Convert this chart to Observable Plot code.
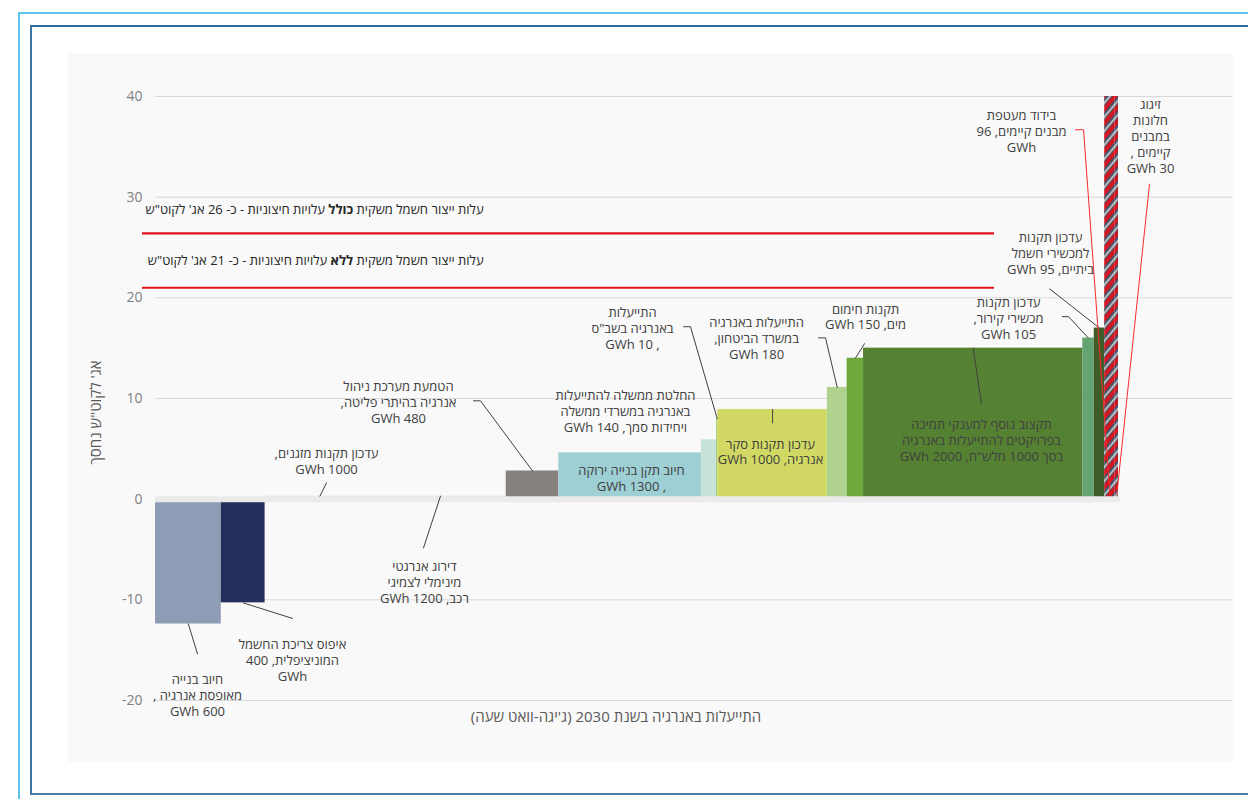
<!DOCTYPE html>
<html lang="he">
<head>
<meta charset="utf-8">
<script src="https://cdn.jsdelivr.net/npm/d3@7"></script>
<script src="https://cdn.jsdelivr.net/npm/@observablehq/plot@0.6"></script>
<style>
  html, body { margin: 0; padding: 0; background: #ffffff; }
  body { width: 1248px; height: 799px; overflow: hidden; position: relative; font-family: "Open Sans", "DejaVu Sans", sans-serif; }
  #outer { position: absolute; left: 18px; top: 12px; width: 1240px; height: 800px; border-left: 2px solid #5cc2ef; border-top: 2px solid #5cc2ef; }
  #inner { position: absolute; left: 30px; top: 25px; width: 1230px; height: 766px; border-left: 2px solid #3d77a5; border-top: 2px solid #2c6da0; border-bottom: 2px solid #4a7fa8; }
  #chart { position: absolute; left: 68px; top: 53px; }
</style>
</head>
<body>
<div id="outer"></div>
<div id="inner"></div>
<div id="chart"></div>
<script>
// ---------- data ----------
const measures = [
  "חיוב בנייה מאופסת אנרגיה",
  "איפוס צריכת החשמל המוניציפלית",
  "עדכון תקנות מזגנים",
  "דירוג אנרגטי מינימלי לצמיגי רכב",
  "הטמעת מערכת ניהול אנרגיה בהיתרי פליטה",
  "חיוב תקן בנייה ירוקה",
  "החלטת ממשלה להתייעלות באנרגיה במשרדי ממשלה ויחידות סמך",
  "התייעלות באנרגיה בשב\"ס",
  "עדכון תקנות סקר אנרגיה",
  "התייעלות באנרגיה במשרד הביטחון",
  "תקנות חימום מים",
  "תקצוב נוסף למענקי תמיכה בפרויקטים להתייעלות באנרגיה",
  "עדכון תקנות מכשירי קירור",
  "עדכון תקנות למכשירי חשמל ביתיים",
  "בידוד מעטפת מבנים קיימים",
  "זיגוג חלונות במבנים קיימים"
];
const savingsGWh = [600, 400, 1000, 1200, 480, 1300, 140, 10, 1000, 180, 150, 2000, 105, 95, 96, 30];
const costAgPerKWh = [-12.4, -10.3, 0.3, 0.3, 2.8, 4.6, 5.9, 8.0, 8.9, 11.1, 14.0, 15.0, 16.0, 17.0, 45, 45];
const labelLines = [
  ["חיוב בנייה", "מאופסת אנרגיה ,", "600 GWh"],
  ["איפוס צריכת החשמל", "המוניציפלית, 400", "GWh"],
  ["עדכון תקנות מזגנים,", "1000 GWh"],
  ["דירוג אנרגטי", "מינימלי לצמיגי", "רכב, 1200 GWh"],
  ["הטמעת מערכת ניהול", "אנרגיה בהיתרי פליטה,", "480 GWh"],
  ["חיוב תקן בנייה ירוקה", ", 1300 GWh"],
  ["החלטת ממשלה להתייעלות", "באנרגיה במשרדי ממשלה", "ויחידות סמך, 140 GWh"],
  ["התייעלות", "באנרגיה בשב\"ס", ", 10 GWh"],
  ["עדכון תקנות סקר", "אנרגיה, 1000 GWh"],
  ["התייעלות באנרגיה", "במשרד הביטחון,", "180 GWh"],
  ["תקנות חימום", "מים, 150 GWh"],
  ["תקצוב נוסף למענקי תמיכה", "בפרויקטים להתייעלות באנרגיה", "בסך 1000 מלש\"ח, 2000 GWh"],
  ["עדכון תקנות", "מכשירי קירור,", "105 GWh"],
  ["עדכון תקנות", "למכשירי חשמל", "ביתיים, 95 GWh"],
  ["בידוד מעטפת", "מבנים קיימים, 96", "GWh"],
  ["זיגוג", "חלונות", "במבנים", "קיימים ,", "30 GWh"]
];
const refCosts = [26.4, 21.0];
const refLabels = [
  "עלות ייצור חשמל משקית *כולל* עלויות חיצוניות - כ- 26 אג' לקוט\"ש",
  "עלות ייצור חשמל משקית *ללא* עלויות חיצוניות - כ- 21 אג' לקוט\"ש"
];
const yTicks = [-20, -10, 0, 10, 20, 30, 40];
const yLabel = "אג' לקוט\"ש נחסך";
const xLabel = "התייעלות באנרגיה בשנת 2030 (ג'יגה-וואט שעה)";

// ---------- styles / layout (not data) ----------
const palette = ["#8e9cb6", "#242f5e", "#e4e4e4", "#e4e4e4", "#878280", "#9dcfd4", "#c6e3d9", "#9cc36b",
                 "#d1d964", "#afd38f", "#70a93b", "#558232", "#66a372", "#3e5c27", "url(#hatch)", "url(#hatch)"];
// label anchor [GWh, cost] and leader elbow points (data units)
const labelLayout = [
  {at: [383, -19.44],  path: [[383, -15.37]]},
  {at: [1250, -15.96], path: [[1250, -11.85]]},
  {at: [1560, 3.80],   path: [[1560, 1.62]]},
  {at: [2454, -8.22],  path: [[2445, -4.84]]},
  {at: [2217, 9.67],   path: [[2901, 9.77], [2965, 9.77]]},
  {at: [4343, 2.12],   path: null},
  {at: [4288, 8.77],   path: null},
  {at: [4352, 17.04],  path: [[4818, 17.13], [4881, 17.13]]},
  {at: [5611, 4.75],   path: [[5630, 7.58]]},
  {at: [5484, 16.02],  path: [[6049, 16.02], [6113, 16.02]]},
  {at: [6478, 18.16],  path: [[6469, 15.45]]},
  {at: [7536, 5.89],   path: [[7536, 9.47]]},
  {at: [7783, 18.0],   path: [[8275, 18.13], [8330, 18.13]]},
  {at: [8166, 24.47],  path: [[8157, 20.89]]},
  {at: [7901, 36.58],  path: [[8394, 36.7], [8467, 36.7]], red: true},
  {at: [9078, 36.1],   path: [[9069, 31.3]], red: true}
];
const refLabelAt = [[2993, 28.74], [2993, 23.72]];

// ---------- build tables ----------
let cum = 0;
const bars = measures.map((m, i) => {
  const x1 = cum; cum += savingsGWh[i];
  return {i, measure: m, x1, x2: cum, mid: (x1 + cum) / 2, cost: costAgPerKWh[i], fill: palette[i], hatched: palette[i].startsWith("url")};
});
const total = cum;
const labels = bars.map((b, i) => ({text: labelLines[i].join("\n"), x: labelLayout[i].at[0], y: labelLayout[i].at[1]}));
const leaders = [];
bars.forEach((b, i) => {
  const L = labelLayout[i];
  if (!L.path) return;
  L.path.forEach(p => leaders.push({id: i, x: p[0], y: p[1], red: !!L.red}));
  leaders.push({id: i, x: b.mid, y: b.hatched ? 0.5 : b.cost, red: !!L.red});
});
const refs = refCosts.map((c, i) => ({cost: c, label: refLabels[i], x: refLabelAt[i][0], y: refLabelAt[i][1]}));

const font = "'Open Sans', 'DejaVu Sans', sans-serif";
const chart = Plot.plot({
  width: 1165,
  height: 709,
  marginLeft: 87,
  marginRight: 115,
  marginTop: 43,
  marginBottom: 62,
  style: {background: "#f9f9f9", fontFamily: font, fontSize: "14px", color: "#808080", overflow: "visible"},
  x: {domain: [0, total], axis: null},
  y: {domain: [-20, 40], ticks: yTicks, tickSize: 0, tickPadding: 13, tickFormat: d => String(d), label: null},
  marks: [
    Plot.ruleY(yTicks.filter(t => t !== 0), {stroke: "#d9d9d9", strokeWidth: 1, insetRight: -114}),
    Plot.rect(bars.filter(b => !b.hatched), {x1: "x1", x2: "x2", y1: 0, y2: "cost", fill: "fill"}),
    Plot.rect(bars.filter(b => b.hatched), {x1: "x1", x2: "x2", y1: 0, y2: "cost", fill: "url(#hatch)", clip: true}),
    Plot.ruleY([0], {stroke: "#ebebeb", strokeWidth: 6, insetRight: -2}),
    Plot.ruleY(refs, {y: "cost", stroke: "#e3131b", strokeWidth: 2.2, insetLeft: -13, insetRight: 124}),
    Plot.line(leaders.filter(d => !d.red), {x: "x", y: "y", z: "id", stroke: "#404040", strokeWidth: 1}),
    Plot.line(leaders.filter(d => d.red), {x: "x", y: "y", z: "id", stroke: "#ff2a2a", strokeWidth: 1}),
    Plot.text(labels, {x: "x", y: "y", text: "text", fill: "#404040", fontSize: 13, lineHeight: 1.22}),
    Plot.text(refs, {x: "x", y: "y", text: "label", fill: "#262626", fontSize: 13, textAnchor: "start"}),
    Plot.text([yLabel], {frameAnchor: "left", textAnchor: "middle", rotate: -90, dx: -59, dy: 14, fill: "#595959", fontSize: 15}),
    Plot.text([xLabel], {frameAnchor: "bottom", textAnchor: "middle", dx: -21, dy: 21, fill: "#595959", fontSize: 15})
  ],
  color: {type: "identity"}
});

// hatch pattern
const defs = document.createElementNS("http://www.w3.org/2000/svg", "defs");
defs.innerHTML = '<pattern id="hatch" patternUnits="userSpaceOnUse" width="9" height="9" patternTransform="rotate(40)">' +
  '<rect width="9" height="9" fill="#45526b"/><rect width="4" height="9" fill="#d3161f"/><rect x="6" width="2" height="9" fill="#bdb8b8"/></pattern>';
chart.insertBefore(defs, chart.firstChild);

// right-to-left text + bold segment
chart.querySelectorAll('g[aria-label="text"] text').forEach(t => {
  t.setAttribute("direction", "rtl");
  t.style.direction = "rtl";
  t.style.unicodeBidi = "embed";
  if (t.childElementCount === 0 && t.textContent.includes("*")) {
    const parts = t.textContent.split("*");
    t.textContent = "";
    parts.forEach((p, k) => {
      const s = document.createElementNS("http://www.w3.org/2000/svg", "tspan");
      s.textContent = p;
      if (k === 1) s.setAttribute("font-weight", "bold");
      t.appendChild(s);
    });
  }
});
document.getElementById("chart").appendChild(chart);
</script>
</body>
</html>
